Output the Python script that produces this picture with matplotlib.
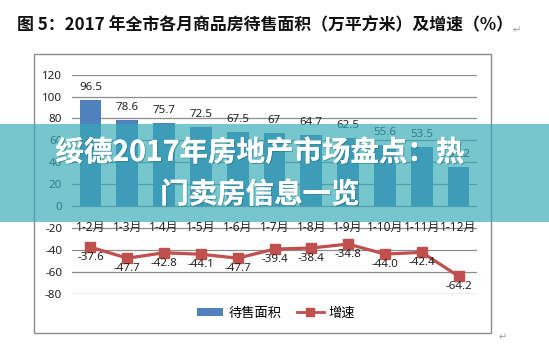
import matplotlib
matplotlib.use("Agg")
import matplotlib.pyplot as plt
from matplotlib.patches import Rectangle, Patch
from matplotlib.lines import Line2D
import matplotlib.patheffects as pe
import numpy as np

plt.rcParams['font.family'] = ['Noto Sans', 'Noto Sans CJK SC', 'DejaVu Sans']

categories = ["1-2月", "1-3月", "1-4月", "1-5月", "1-6月", "1-7月", "1-8月", "1-9月", "1-10月", "1-11月", "1-12月"]
area = [96.5, 78.6, 75.7, 72.5, 67.5, 67, 64.7, 62.5, 55.6, 53.5, 35.2]
area_labels = ["96.5", "78.6", "75.7", "72.5", "67.5", "67", "64.7", "62.5", "55.6", "53.5", "35.2"]
growth = [-37.6, -47.7, -42.8, -44.1, -47.7, -39.4, -38.4, -34.8, -44.0, -42.4, -64.2]
growth_labels = ["-37.6", "-47.7", "-42.8", "-44.1", "-47.7", "-39.4", "-38.4", "-34.8", "-44.0", "-42.4", "-64.2"]
yticks = [120, 100, 80, 60, 40, 20, 0, -20, -40, -60, -80]

title = "图 5：2017 年全市各月商品房待售面积（万平方米）及增速（%）"
banner1 = "绥德2017年房地产市场盘点：热"
banner2 = "门卖房信息一览"

W, H = 549, 345
fig = plt.figure(figsize=(W / 100, H / 100), dpi=100)
fig.patch.set_facecolor("white")

def fx(px):
    return px / W

def fy(py):
    return 1 - py / H

# outer chart box
fig.patches.append(Rectangle((fx(34), fy(333)), fx(491) - fx(34), fy(54) - fy(333),
                             transform=fig.transFigure, facecolor="none",
                             edgecolor="#8c8c8c", linewidth=1.0, zorder=1))

# plot area
left, right = 72, 477
top, bottom = 74.7, 293.5
ax = fig.add_axes([fx(left), fy(bottom), fx(right) - fx(left), fy(top) - fy(bottom)])
ax.set_facecolor("none")
x = np.arange(len(categories))
ax.set_xlim(-0.5, len(categories) - 0.5)
ax.set_ylim(-80, 120)

for t in yticks:
    ax.axhline(t, color="#8c8c8c", linewidth=0.9, zorder=0)

ax.bar(x, area, width=0.59, color="#4F81BD", zorder=2)
ax.plot(x, growth, color="#C0504D", linewidth=2.3, marker="s", markersize=6.5,
        markerfacecolor="#C0504D", markeredgecolor="#C0504D", zorder=3)

for xi, v, lab in zip(x, area, area_labels):
    ax.annotate(lab, (xi, v), xytext=(0, 9), textcoords="offset points",
                ha="center", va="center", fontsize=8.3, color="#222222", zorder=4)
for xi, v, lab in zip(x, growth, growth_labels):
    ax.annotate(lab, (xi, v), xytext=(0, -7.5), textcoords="offset points",
                ha="center", va="center", fontsize=8.3, color="#222222", zorder=4)

for xi, c in zip(x, categories):
    ax.text(xi, -20, c, ha="center", va="center", fontsize=8.6, color="#222222", zorder=4)

ax.set_yticks(yticks)
ax.set_yticklabels([str(t) for t in yticks], fontsize=8.3, color="#222222")
ax.tick_params(axis="y", length=0, pad=7)
ax.set_xticks([])
for s in ax.spines.values():
    s.set_visible(False)

# legend
handles = [Patch(facecolor="#4F81BD", edgecolor="none"),
           Line2D([0], [0], color="#C0504D", linewidth=2.0, marker="s", markersize=6,
                  markerfacecolor="#C0504D")]
fig.legend(handles, ["待售面积", "增速"], loc="center", bbox_to_anchor=(fx(276), fy(313)),
           ncol=2, frameon=False, fontsize=9.5, handlelength=2.0, handleheight=0.5,
           columnspacing=1.2, handletextpad=0.4)

# title
fig.text(fx(265), fy(25), title, ha="center", va="center", fontsize=12.2,
         fontweight="bold", family=["Noto Sans CJK SC"], color="#111111")
fig.text(fx(517), fy(30), "↵", ha="center", va="center", fontsize=7, color="#999999",
         family=["DejaVu Sans"])
fig.text(fx(503), fy(337), "↵", ha="center", va="center", fontsize=7, color="#999999",
         family=["DejaVu Sans"])

# banner overlay
fig.patches.append(Rectangle((0, fy(222)), 1, fy(124) - fy(222), transform=fig.transFigure,
                             facecolor="#35ABB8", alpha=0.68, edgecolor="none", zorder=10))
shadow = [pe.withSimplePatchShadow(offset=(0.8, -0.8), shadow_rgbFace="#2a6f78", alpha=0.5),
          pe.Normal()]
fig.text(fx(260), fy(153), banner1, ha="center", va="center", fontsize=20.5,
         fontweight="bold", family=["Noto Sans CJK SC"], color="white", zorder=11,
         path_effects=shadow)
fig.text(fx(260), fy(195), banner2, ha="center", va="center", fontsize=20.5,
         fontweight="bold", family=["Noto Sans CJK SC"], color="white", zorder=11,
         path_effects=shadow)

fig.savefig("out.png", dpi=100)
